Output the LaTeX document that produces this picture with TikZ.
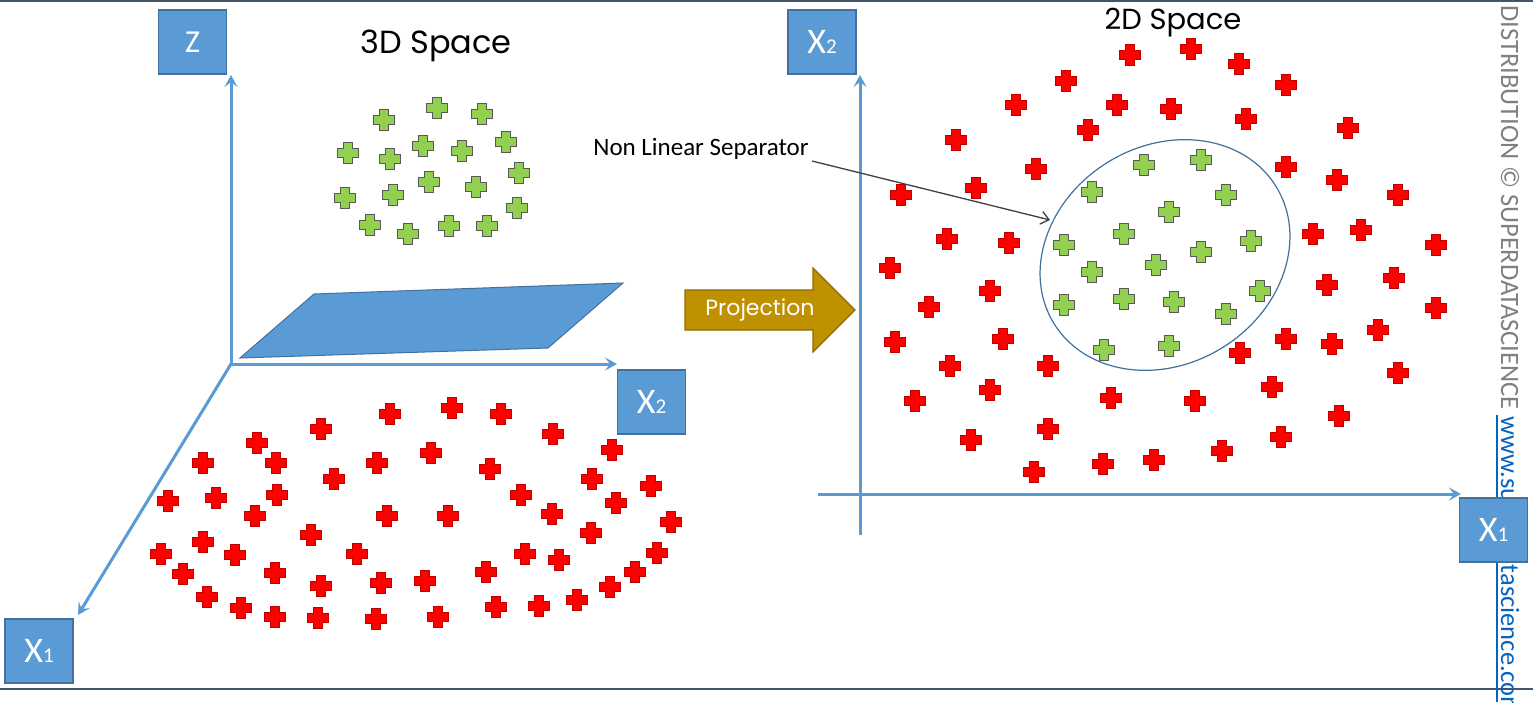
\documentclass[tikz,border=0pt]{standalone}
\usepackage{fontspec}
\setmainfont{Carlito}
\newfontfamily\pop{Poppins}
\usetikzlibrary{arrows.meta}
\definecolor{axblue}{HTML}{5B9BD5}
\definecolor{axedge}{HTML}{41719C}
\definecolor{pred}{HTML}{FF0000}
\definecolor{predge}{HTML}{C00000}
\definecolor{pgreen}{HTML}{92D050}
\definecolor{pgedge}{HTML}{595959}
\definecolor{gold}{HTML}{BF9000}
\definecolor{goldedge}{HTML}{8C6A00}
\definecolor{framec}{HTML}{44546A}
\definecolor{linkc}{HTML}{0563C1}
\definecolor{wmc}{HTML}{808080}
\tikzset{
  pics/redplus/.style={code={
    \path[draw=predge,fill=pred,line width=1pt,line join=miter]
      (-4.2,-10.5) -- (4.2,-10.5) -- (4.2,-4.2) -- (10.5,-4.2) -- (10.5,4.2) -- (4.2,4.2)
      -- (4.2,10.5) -- (-4.2,10.5) -- (-4.2,4.2) -- (-10.5,4.2) -- (-10.5,-4.2) -- (-4.2,-4.2) -- cycle;}},
  pics/greenplus/.style={code={
    \path[draw=pgedge,fill=pgreen,line width=1.3pt,line join=miter]
      (-4.2,-10.5) -- (4.2,-10.5) -- (4.2,-4.2) -- (10.5,-4.2) -- (10.5,4.2) -- (4.2,4.2)
      -- (4.2,10.5) -- (-4.2,10.5) -- (-4.2,4.2) -- (-10.5,4.2) -- (-10.5,-4.2) -- (-4.2,-4.2) -- cycle;}},
  axisline/.style={draw=axblue, line width=3pt, -{Stealth[length=12pt,width=13pt,inset=5pt]}},
  labelbox/.style={draw=axedge, fill=axblue, line width=1.5pt, minimum width=68pt,
    minimum height=64pt, inner sep=0pt, text=white, font=\fontsize{36}{36}\selectfont},
  titletext/.style={inner sep=0pt, text=black},
}
\newcommand{\subdig}[1]{{\fontsize{21}{21}\selectfont #1}}
\begin{document}
\begin{tikzpicture}[x=1pt,y=-1pt]
\useasboundingbox (0,0) rectangle (1533,702);
\clip (0,0) rectangle (1533,702);
\fill[white] (0,0) rectangle (1533,702);

% frame lines
\draw[framec, line width=1.5pt] (0,1) -- (1533,1);
\draw[framec, line width=2pt] (0,689) -- (1533,689);

% ---------- 3D side ----------
\coordinate (O) at (231,364);
\coordinate (ztip) at (231,75);
\coordinate (xtwotip) at (617,364);
\coordinate (xonetip) at (78,615);

\path[draw=axedge, fill=axblue, line width=1pt] (240,358) -- (314,294) -- (623,283) -- (548,348) -- cycle;

\draw[axisline] (O) -- (ztip);
\draw[axisline] (O) -- (xtwotip);
\draw[axisline] (O) -- (xonetip);

\node[labelbox, font=\fontsize{32}{32}\selectfont] (zbox) at (192.5,42) {Z};
\node[labelbox] (xtwoL) at (651.5,402) {X\subdig{2}};
\node[labelbox] (xoneL) at (39,651) {X\subdig{1}};

\node[titletext, font=\pop\fontsize{32}{32}\selectfont] (t3d) at (436,46) {3D Space};

\foreach \p in {(384,120),(437,108),(482,114),(348,153),(390,159),(423,146),(462,151),(506,142),(519,173),
  (429,182),(393,195),(476,187),(345,198),(517,208),(370,225),(408,234),(449,226),(487,226)}
  \pic at \p {greenplus};

\foreach \p in {(390,414),(321,429),(257,443),(203,463),(276,463),(377,463),(334,479),(168,501),(216,498),
  (277,495),(255,516),(387,516),(311,535),(203,542),(161,554),(235,555),(357,554),(183,574),(275,573),
  (321,586),(381,583),(207,597),(241,608),(275,617),(318,618),(376,619),
  (452,408),(501,414),(553,434),(431,453),(612,450),(490,469),(592,479),(651,486),(521,495),(616,503),
  (448,516),(552,514),(671,522),(591,533),(525,554),(559,560),(657,553),(486,572),(635,572),(425,581),
  (610,587),(496,607),(539,606),(577,600),(438,617)}
  \pic at \p {redplus};

% ---------- projection arrow ----------
\path[draw=goldedge, fill=gold, line width=1.2pt, line join=miter]
  (685,290) -- (813,290) -- (813,268) -- (855,310) -- (813,352) -- (813,330) -- (685,330) -- cycle;
\node[inner sep=0pt, text=white, font=\pop\fontsize{22}{22}\selectfont] (proj) at (760,310) {Projection};

% ---------- 2D side ----------
\coordinate (vbot) at (860,535);
\coordinate (vtip) at (860,75);
\coordinate (hleft) at (818,494);
\coordinate (htip) at (1461,494);
\draw[axisline] (vbot) -- (vtip);
\draw[axisline] (hleft) -- (htip);

\node[titletext, font=\pop\fontsize{29}{29}\selectfont] (t2d) at (1173,23) {2D Space};

\foreach \p in {(1130,55),(1191,49),(1239,64),(1066,81),(1286,85),(1016,105),(1117,105),(1171,109),
  (1246,119),(1088,130),(1348,128),(956,140),(1036,169),(1286,167),(1337,180),(976,188),(901,195),
  (1398,195),(947,239),(1009,243),(1313,234),(1361,230),(1436,245),(890,268),(990,291),(929,307),
  (1327,285),(1394,278),(1436,308),(895,342),(1003,339),(1286,339),(1332,344),(1378,330),(1240,353),
  (950,366),(1048,366),(1398,373),(990,390),(1272,387),(915,401),(1111,398),(1195,401),(1339,416),
  (1048,429),(971,440),(1281,437),(1222,451),(1103,464),(1154,460),(1034,472)}
  \pic at \p {redplus};

\coordinate (ec) at (1165,255);
\draw[axedge, line width=1.2pt, rotate around={31.7:(ec)}] (ec) ellipse [x radius=130.5pt, y radius=109pt];

\foreach \p in {(1144,165),(1201,160),(1092,192),(1226,195),(1169,212),(1124,234),(1064,245),(1251,241),
  (1201,252),(1156,265),(1092,272),(1260,291),(1064,305),(1124,299),(1174,302),(1226,314),(1104,350),(1169,346)}
  \pic at \p {greenplus};

\node[inner sep=0pt, font=\fontsize{25}{25}\selectfont] (nls) at (701,149) {Non Linear Separator};
\coordinate (sepstart) at (812,161);
\coordinate (septip) at (1050,220);
\draw[draw=black!75, line width=1.3pt, -{Straight Barb[length=8pt,width=13pt]}] (sepstart) -- (septip);

% ---------- watermark ----------
\node[inner sep=0pt, anchor=base east, rotate=-90, text=wmc, font=\fontsize{26.5}{26.5}\selectfont] (wm) at (1501,410) {DISTRIBUTION © SUPERDATASCIENCE};
\node[inner sep=0pt, anchor=base west, rotate=-90, text=linkc, font=\fontsize{26.5}{26.5}\selectfont] (url) at (1501,416) {www.superdatascience.com};
\draw[linkc, line width=1.2pt] (1497,415) -- (1497,702);

\node[labelbox] (xtwoR) at (822,42) {X\subdig{2}};
\node[labelbox] (xoneR) at (1493.5,530) {X\subdig{1}};
\end{tikzpicture}
\end{document}
